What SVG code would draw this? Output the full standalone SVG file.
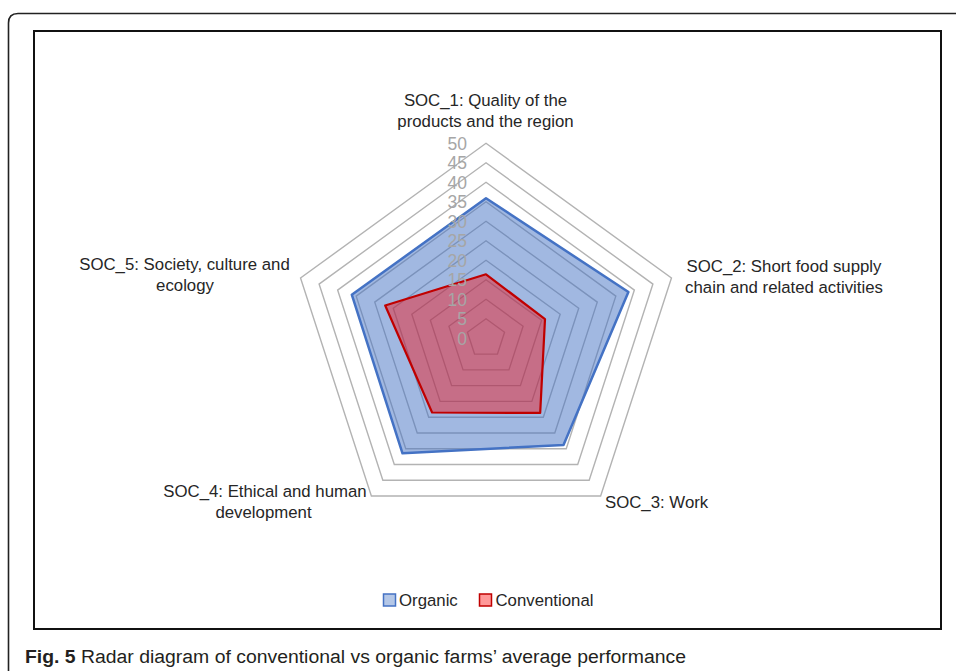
<svg xmlns="http://www.w3.org/2000/svg" width="956" height="671" viewBox="0 0 956 671">
<style>
.lbl{font-family:"Liberation Sans",Arial,sans-serif;font-size:16.8px;fill:#262626}
.num{font-family:"Liberation Sans",Arial,sans-serif;font-size:17.5px;fill:#a6a6a6;text-anchor:end}
.grid{fill:none;stroke:#b3b3b3;stroke-width:1.4}
.org{fill:#4472C4;fill-opacity:0.5;stroke:#4472C4;stroke-width:2.5;stroke-linejoin:round}
.con{fill:#FF0000;fill-opacity:0.4;stroke:#C00000;stroke-width:2.2;stroke-linejoin:round}
.cap{font-family:"Liberation Sans",Arial,sans-serif;font-size:19.2px;fill:#231f20}
</style>
<rect width="956" height="671" fill="#ffffff"/>
<path d="M8.5,671 V23 Q8.5,13.5 18,13.5 H956" fill="none" stroke="#222" stroke-width="1.6"/>
<rect x="34" y="31" width="907" height="598" fill="#ffffff" stroke="#111" stroke-width="2"/>
<g id="grid">
<polygon class="grid" points="486,318.8 504.55,332.27 497.46,354.08 474.54,354.08 467.45,332.27"/>
<polygon class="grid" points="486,299.3 523.09,326.25 508.92,369.85 463.08,369.85 448.91,326.25"/>
<polygon class="grid" points="486,279.8 541.64,320.22 520.39,385.63 451.61,385.63 430.36,320.22"/>
<polygon class="grid" points="486,260.3 560.18,314.2 531.85,401.4 440.15,401.4 411.82,314.2"/>
<polygon class="grid" points="486,240.8 578.73,308.17 543.31,417.18 428.69,417.18 393.27,308.17"/>
<polygon class="grid" points="486,221.3 597.27,302.14 554.77,432.96 417.23,432.96 374.73,302.14"/>
<polygon class="grid" points="486,201.8 615.82,296.12 566.23,448.73 405.77,448.73 356.18,296.12"/>
<polygon class="grid" points="486,182.3 634.37,290.09 577.7,464.51 394.3,464.51 337.63,290.09"/>
<polygon class="grid" points="486,162.8 652.91,284.07 589.16,480.28 382.84,480.28 319.09,284.07"/>
<polygon class="grid" points="486,143.3 671.46,278.04 600.62,496.06 371.38,496.06 300.54,278.04"/>
</g>
<g id="series-organic">
<polygon class="org" points="486,198.3 628.4,292 563.5,444.9 402.5,453.3 351.8,294.7"/>
</g>
<g id="series-conventional">
<polygon class="con" points="486,274.3 545,319.1 540.2,412.9 432.1,412.5 385.2,305.5"/>
</g>
<g id="axis-labels">
<text class="num" x="467" y="344.5">0</text>
<text class="num" x="467" y="325">5</text>
<text class="num" x="467" y="305.5">10</text>
<text class="num" x="467" y="286">15</text>
<text class="num" x="467" y="266.5">20</text>
<text class="num" x="467" y="247">25</text>
<text class="num" x="467" y="227.5">30</text>
<text class="num" x="467" y="208">35</text>
<text class="num" x="467" y="188.5">40</text>
<text class="num" x="467" y="169">45</text>
<text class="num" x="467" y="149.5">50</text>
</g>
<g id="soc1">
<text class="lbl" x="485.5" y="106" text-anchor="middle">SOC_1: Quality of the</text>
<text class="lbl" x="485.5" y="127" text-anchor="middle">products and the region</text>
</g>
<g id="soc2">
<text class="lbl" x="784" y="271.5" text-anchor="middle">SOC_2: Short food supply</text>
<text class="lbl" x="784" y="292.5" text-anchor="middle">chain and related activities</text>
</g>
<g id="soc3">
<text class="lbl" x="605" y="508">SOC_3: Work</text>
</g>
<g id="soc4">
<text class="lbl" x="265" y="496.5" text-anchor="middle">SOC_4: Ethical and human</text>
<text class="lbl" x="263.5" y="517.5" text-anchor="middle">development</text>
</g>
<g id="soc5">
<text class="lbl" x="184.5" y="270" text-anchor="middle">SOC_5: Society, culture and</text>
<text class="lbl" x="185" y="291" text-anchor="middle">ecology</text>
</g>
<g id="legend">
<rect x="383.5" y="594" width="12" height="12" fill="#4472C4" fill-opacity="0.4" stroke="#4472C4" stroke-width="1.5"/>
<text class="lbl" x="399" y="606">Organic</text>
<rect x="479.5" y="594" width="12" height="12" fill="#FF0000" fill-opacity="0.4" stroke="#C00000" stroke-width="1.5"/>
<text class="lbl" x="495.5" y="606">Conventional</text>
</g>
<text class="cap" x="25" y="663" textLength="661" lengthAdjust="spacingAndGlyphs"><tspan font-weight="bold">Fig. 5</tspan> Radar diagram of conventional vs organic farms’ average performance</text>
</svg>
